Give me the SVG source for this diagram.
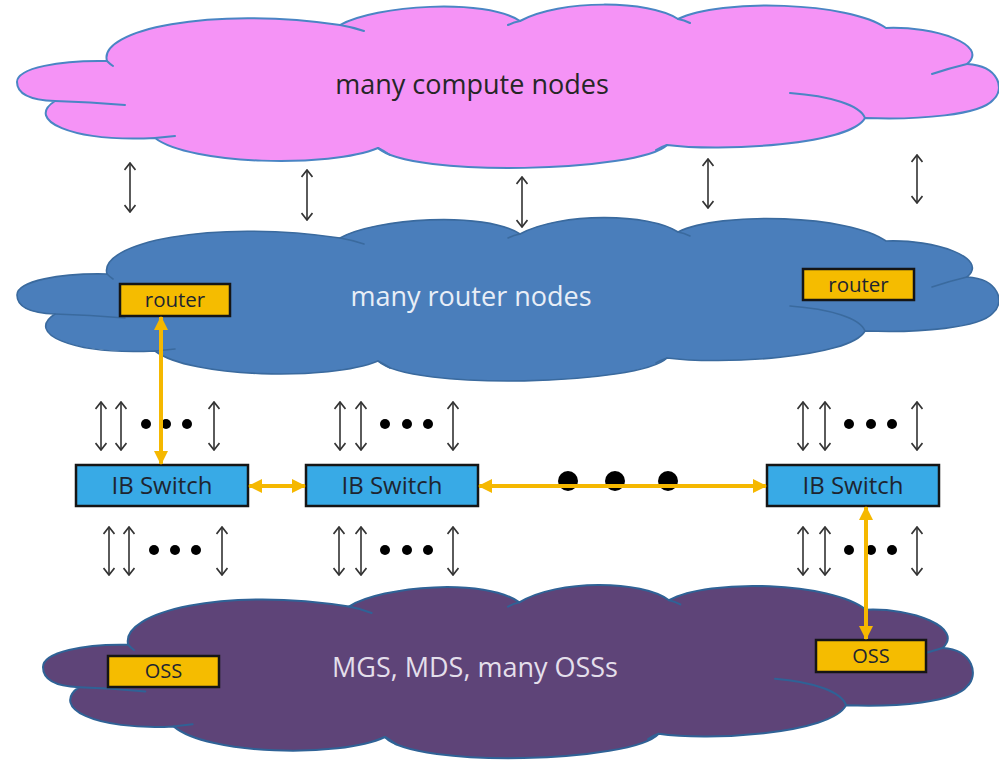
<svg xmlns="http://www.w3.org/2000/svg" xmlns:xlink="http://www.w3.org/1999/xlink" width="999" height="763" viewBox="0 0 999 763">
<defs>
<style>
.cloudshape{vector-effect:non-scaling-stroke;stroke-linejoin:round}
.inner{fill:none;vector-effect:non-scaling-stroke;stroke-linecap:round}
.bigtext{font-family:"Open Sans","Liberation Sans",sans-serif;font-size:27px;text-anchor:middle}
.boxtext{font-family:"Open Sans","Liberation Sans",sans-serif;text-anchor:middle;fill:#1e2530}
.gold-box{fill:#f5bc00;stroke:#151515;stroke-width:2.5}
.ib-box{fill:#38aae6;stroke:#151515;stroke-width:2.5}
.thin{stroke:#4a4a4a;stroke-width:1.8;fill:none;marker-start:url(#chev);marker-end:url(#chev)}
.gold{stroke:#f5b800;stroke-width:4;fill:none;marker-start:url(#tri);marker-end:url(#tri)}
.dot{fill:#000}
</style>
<marker id="chev" viewBox="0 0 10 12" refX="9" refY="6" markerWidth="10" markerHeight="12" markerUnits="userSpaceOnUse" orient="auto-start-reverse">
<path d="M2,0.5 L9,6 L2,11.5" fill="none" stroke="#333" stroke-width="1.7"/>
</marker>
<marker id="tri" viewBox="0 0 14 14" refX="13" refY="7" markerWidth="14" markerHeight="14" markerUnits="userSpaceOnUse" orient="auto-start-reverse">
<path d="M0,0 L14,7 L0,14 Z" fill="#f5b800"/>
</marker>
<path id="cloud" class="cloudshape" d="M17,82 C17,68 60,60 107,61 C98,30 210,6 340,25 C375,5 485,-2 520,21 C560,-1 650,0 678,19 C720,-2 850,2 886,28 C935,26 990,45 967,64 C1000,66 1005,90 993,100 C980,115 920,120 865,118 C850,145 720,152 667,145 C640,172 410,178 378,148 C330,168 190,165 155,138 C70,142 25,120 55,101 C25,100 17,92 17,82 Z"/>
<path id="cloudlines" class="inner" d="M107,61 Q110,64 113,66 M340,25 Q352,27 364,31 M520,21 Q514,22 508,25 M678,19 Q684,20 690,23 M932,74 Q950,68 967,64 M790,93 C830,96 860,105 865,118 M667,145 Q661,147 656,150 M378,148 Q384,151 390,155 M155,138 Q165,137 175,136 M55,101 Q90,102 125,105"/>
</defs>
<rect width="999" height="763" fill="#ffffff"/>

<g id="compute-cloud">
<use xlink:href="#cloud" href="#cloud" fill="#f593f6" stroke="#4a85c4" stroke-width="2"/>
<use xlink:href="#cloudlines" href="#cloudlines" stroke="#4a85c4" stroke-width="2"/>
<text class="bigtext" x="472" y="94" fill="#262626">many compute nodes</text>
</g>

<g id="router-cloud">
<g transform="translate(0,213)">
<use xlink:href="#cloud" href="#cloud" fill="#4a7ebb" stroke="#3a6a9e" stroke-width="1.6"/>
<use xlink:href="#cloudlines" href="#cloudlines" stroke="#3a6a9e" stroke-width="1.6"/>
</g>
<text class="bigtext" x="471" y="306" fill="#e8eef7">many router nodes</text>
</g>

<g id="oss-cloud">
<g transform="matrix(0.947 0 0 1.06 26.9 580.1)">
<use xlink:href="#cloud" href="#cloud" fill="#5e4478" stroke="#2f6296" stroke-width="2"/>
<use xlink:href="#cloudlines" href="#cloudlines" stroke="#2f6296" stroke-width="2"/>
</g>
<text class="bigtext" x="475" y="677" fill="#e4dfeb">MGS, MDS, many OSSs</text>
</g>

<g id="router-left">
<rect class="gold-box" x="120" y="284" width="110" height="32"/>
<text class="boxtext" x="175" y="307" font-size="20.5">router</text>
</g>
<g id="router-right">
<rect class="gold-box" x="803" y="269" width="111" height="31"/>
<text class="boxtext" x="858.5" y="292" font-size="20.5">router</text>
</g>

<g id="oss-left">
<rect class="gold-box" x="108" y="656" width="111" height="31"/>
<text class="boxtext" x="163.5" y="678" font-size="20">OSS</text>
</g>
<g id="oss-right">
<rect class="gold-box" x="816" y="640" width="110" height="32"/>
<text class="boxtext" x="871" y="663" font-size="20">OSS</text>
</g>

<g id="switch-1">
<rect class="ib-box" x="76" y="465" width="172" height="41"/>
<text class="boxtext" x="162" y="494" font-size="24">IB Switch</text>
</g>
<g id="switch-2">
<rect class="ib-box" x="306" y="465" width="172" height="41"/>
<text class="boxtext" x="392" y="494" font-size="24">IB Switch</text>
</g>
<g id="switch-3">
<rect class="ib-box" x="767" y="465" width="172" height="41"/>
<text class="boxtext" x="853" y="494" font-size="24">IB Switch</text>
</g>

<g id="connectors">
<g id="compute-router-links">
<line class="thin" x1="130" y1="163" x2="130" y2="212"/>
<line class="thin" x1="307" y1="170" x2="307" y2="220"/>
<line class="thin" x1="522" y1="177" x2="522" y2="227"/>
<line class="thin" x1="708" y1="159" x2="708" y2="208"/>
<line class="thin" x1="917" y1="155" x2="917" y2="203"/>
</g>
<g id="router-switch-links">
<line class="thin" x1="101" y1="402" x2="101" y2="450"/>
<line class="thin" x1="121" y1="402" x2="121" y2="450"/>
<line class="thin" x1="214" y1="402" x2="214" y2="450"/>
<line class="thin" x1="340" y1="402" x2="340" y2="450"/>
<line class="thin" x1="361" y1="402" x2="361" y2="450"/>
<line class="thin" x1="453" y1="402" x2="453" y2="450"/>
<line class="thin" x1="803" y1="402" x2="803" y2="450"/>
<line class="thin" x1="825" y1="402" x2="825" y2="450"/>
<line class="thin" x1="917" y1="402" x2="917" y2="450"/>
</g>
<g id="switch-oss-links">
<line class="thin" x1="109" y1="527" x2="109" y2="575"/>
<line class="thin" x1="129" y1="527" x2="129" y2="575"/>
<line class="thin" x1="222" y1="527" x2="222" y2="575"/>
<line class="thin" x1="339" y1="527" x2="339" y2="575"/>
<line class="thin" x1="361" y1="527" x2="361" y2="575"/>
<line class="thin" x1="453" y1="527" x2="453" y2="575"/>
<line class="thin" x1="803" y1="527" x2="803" y2="575"/>
<line class="thin" x1="825" y1="527" x2="825" y2="575"/>
<line class="thin" x1="917" y1="527" x2="917" y2="575"/>
</g>
<g id="ellipsis-dots">
<circle class="dot" cx="146" cy="424" r="5"/><circle class="dot" cx="166" cy="424" r="5"/><circle class="dot" cx="187" cy="424" r="5"/>
<circle class="dot" cx="385" cy="424" r="5"/><circle class="dot" cx="407" cy="424" r="5"/><circle class="dot" cx="428" cy="424" r="5"/>
<circle class="dot" cx="849" cy="424" r="5"/><circle class="dot" cx="871" cy="424" r="5"/><circle class="dot" cx="892" cy="424" r="5"/>
<circle class="dot" cx="154" cy="550" r="5"/><circle class="dot" cx="175" cy="550" r="5"/><circle class="dot" cx="196" cy="550" r="5"/>
<circle class="dot" cx="385" cy="550" r="5"/><circle class="dot" cx="407" cy="550" r="5"/><circle class="dot" cx="428" cy="550" r="5"/>
<circle class="dot" cx="849" cy="550" r="5"/><circle class="dot" cx="871" cy="550" r="5"/><circle class="dot" cx="892" cy="550" r="5"/>
<circle class="dot" cx="568" cy="481" r="10"/><circle class="dot" cx="615" cy="481" r="10"/><circle class="dot" cx="668" cy="481" r="10"/>
</g>
<g id="gold-links">
<line class="gold" x1="161" y1="317" x2="161" y2="464"/>
<line class="gold" x1="249" y1="486" x2="305" y2="486"/>
<line class="gold" x1="479" y1="486" x2="766" y2="486"/>
<line class="gold" x1="866" y1="507" x2="866" y2="639"/>
</g>
</g>
</svg>
